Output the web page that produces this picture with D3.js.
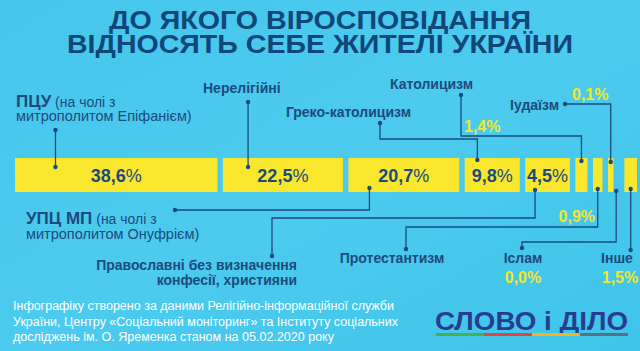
<!DOCTYPE html>
<html><head><meta charset="utf-8">
<script src="https://cdn.jsdelivr.net/npm/d3@7"></script>
<style>html,body{margin:0;padding:0;overflow:hidden;background:#48c8ec}</style>
</head><body>
<script>
// ---- data ----
const categories = ["ПЦУ","Нерелігійні","УПЦ МП","Греко-католицизм","Православні без визначення конфесії, християни","Католицизм","Протестантизм","Іудаїзм","Іслам","Інше"];
const values = [38.6, 22.5, 20.7, 9.8, 4.5, 1.4, 0.9, 0.1, 0.0, 1.5];
const titleLines = ["ДО ЯКОГО ВІРОСПОВІДАННЯ","ВІДНОСЯТЬ СЕБЕ ЖИТЕЛІ УКРАЇНИ"];
const footerLines = ["Інфографіку створено за даними Релігійно-інформаційної служби",
 "України, Центру «Соціальний моніторинг» та Інституту соціальних",
 "досліджень ім. О. Яременка станом на 05.02.2020 року"];

const W = 640, H = 351;
const fmt = v => d3.format(".1f")(v).replace(".", ",");
const svg = d3.select("body").append("svg").attr("width", W).attr("height", H)
  .style("font-family", "'Liberation Sans', Arial, sans-serif");

// background
const defs = svg.append("defs");
const g1 = defs.append("linearGradient").attr("id","bg").attr("x1","0").attr("y1","0").attr("x2","1").attr("y2","1");
g1.append("stop").attr("offset","0").attr("stop-color","#46c6ec");
g1.append("stop").attr("offset","0.5").attr("stop-color","#4ccbee");
g1.append("stop").attr("offset","1").attr("stop-color","#3fc4ea");
svg.append("rect").attr("width",W).attr("height",H).attr("fill","url(#bg)");

const dark = "#1b4b7c", yellow = "#f9e72e", ylab = "#f4e62a";
const narrow = "'Liberation Sans Narrow','Arial Narrow','Liberation Sans',sans-serif";

// title
const titleW = [422, 506];
svg.selectAll("text.title").data(titleLines).join("text")
  .attr("x", W/2).attr("y", (d,i) => 29 + i*24)
  .attr("text-anchor","middle").attr("fill","#0f4778")
  .attr("font-size", 26).attr("font-weight","bold")
  .style("font-family", narrow)
  .attr("textLength",(d,i)=>titleW[i]).attr("lengthAdjust","spacingAndGlyphs")
  .text(d=>d);

// ---- bars ----
const barTop = 158, barH = 34, x0 = 15, xEnd = 637, gap = 5.5;
const labeled = v => v >= 4;
const valSize = 18;
const wScale = d3.scaleLinear().domain([0, d3.max(values)]).range([5, 204]);
// measure text widths for labeled bars
const meas = svg.append("text").attr("font-size",valSize).attr("opacity",0);
const mt1 = meas.append("tspan").attr("font-weight","bold");
const mt2 = meas.append("tspan").text("%");
const widths = values.map(v => {
  if (v <= 0) return 0;
  let w = wScale(v);
  if (labeled(v)) { mt1.text(fmt(v)); w = Math.max(w, meas.node().getComputedTextLength() + 4); }
  return w;
});
meas.remove();
const total = d3.sum(widths) + gap * (values.length - 1);
const k = (xEnd - x0) / total;
let cur = x0;
const bars = values.map((v,i) => {
  const w = widths[i] * k;
  const b = {i, v, x: cur, w};
  cur += w + gap * k;
  return b;
});
svg.selectAll("rect.bar").data(bars.filter(b=>b.w>0)).join("rect")
  .attr("x", d=>d.x).attr("y", barTop).attr("width", d=>d.w).attr("height", barH)
  .attr("fill", yellow);

const inBar = svg.selectAll("text.val").data(bars.filter(b=>labeled(b.v))).join("text")
  .attr("x", d=>d.x + d.w/2).attr("y", barTop + 24).attr("text-anchor","middle")
  .attr("fill", dark).attr("font-size", valSize);
inBar.append("tspan").attr("font-weight","bold").text(d=>fmt(d.v));
inBar.append("tspan").text("%");

// ---- annotations ----
const ann = [
  {i:0, side:"t", frac:0.2, dy:9, dot:[null,130], ey:null},
  {i:1, side:"t", frac:0.21, dy:9, dot:[null,102], ey:null},
  {i:2, side:"b", frac:0.19, dy:4, dot:[175,210], ey:210},
  {i:3, side:"t", frac:0.23, dy:2, dot:[380,123], ey:139},
  {i:4, side:"b", frac:0.22, dy:2, dot:[272,256], ey:218},
  {i:5, side:"t", frac:0.5, dy:3, dot:[461,95], ey:136},
  {i:6, side:"b", frac:0.5, dy:3, dot:[406,249], ey:227},
  {i:7, side:"t", frac:0.5, dy:4, dot:[565,104], ey:104},
  {i:8, side:"b", frac:0.5, dy:1, dot:[522,248], ey:242},
  {i:9, side:"b", frac:0.5, dy:3, dot:[null,250], ey:null}
];
ann.forEach(a => {
  const b = bars[a.i];
  const ax = b.w > 0 ? b.x + b.w * a.frac : b.x - gap * k / 2;
  const by = a.side === "t" ? barTop + a.dy : barTop + barH - a.dy;
  const lx = a.dot[0] === null ? ax : a.dot[0], ly = a.dot[1];
  const p = d3.path();
  p.moveTo(lx, ly);
  if (a.ey !== null) { p.lineTo(lx, a.ey); p.lineTo(ax, a.ey); }
  p.lineTo(ax, by);
  svg.append("path").attr("d", p.toString()).attr("fill","none").attr("stroke", dark).attr("stroke-width",1.3);
  svg.append("circle").attr("cx", lx).attr("cy", ly).attr("r", 2.2).attr("fill", dark);
  svg.append("circle").attr("cx", ax).attr("cy", by).attr("r", 2.2).attr("fill", dark);
});

// label texts
function label(x, y, txt, opts={}) {
  return svg.append("text").attr("x", x).attr("y", y).attr("fill", opts.fill || dark)
    .attr("font-size", opts.size || 14).attr("font-weight", opts.weight || "bold")
    .attr("text-anchor", opts.anchor || "start").text(txt);
}
// ПЦУ
const t0 = svg.append("text").attr("x",16).attr("y",107).attr("fill",dark);
t0.append("tspan").attr("font-size",17).attr("font-weight","bold").text(categories[0]);
t0.append("tspan").attr("font-size",14).text(" (на чолі з");
label(16, 121, "митрополитом Епіфанієм)", {weight:"normal", size:14.5});
// УПЦ МП
const t2 = svg.append("text").attr("x",26).attr("y",224).attr("fill",dark);
t2.append("tspan").attr("font-size",17).attr("font-weight","bold").text(categories[2]);
t2.append("tspan").attr("font-size",14).text(" (на чолі з");
label(26, 239, "митрополитом Онуфрієм)", {weight:"normal", size:14.5});

label(203, 93, categories[1]);
label(411, 117, categories[3], {anchor:"end"});
label(297, 270, "Православні без визначення", {anchor:"end"});
label(297, 285, "конфесії, християни", {anchor:"end"});
label(390, 89, categories[5]);
label(559, 110, categories[7], {anchor:"end"});
label(392, 263, categories[6], {anchor:"middle"});
label(523, 263, categories[8], {anchor:"middle"});
label(617, 263, categories[9], {anchor:"middle"});

// yellow small values
const yopts = {fill: ylab, size: 16};
label(464, 132, fmt(values[5]) + "%", yopts);
label(595, 222, fmt(values[6]) + "%", Object.assign({anchor:"end"}, yopts));
label(572, 100, fmt(values[7]) + "%", yopts);
label(523, 283, fmt(values[8]) + "%", Object.assign({anchor:"middle"}, yopts));
label(620, 283, fmt(values[9]) + "%", Object.assign({anchor:"middle"}, yopts));

// footer
const fW = [381, 385, 321];
svg.selectAll("text.foot").data(footerLines).join("text")
  .attr("x", 13).attr("y", (d,i) => 310 + i*15.5)
  .attr("fill","#ffffff").attr("font-size",12.5)
  .style("font-family", narrow)
  .attr("textLength",(d,i)=>fW[i]).attr("lengthAdjust","spacingAndGlyphs")
  .text(d=>d);

// logo
svg.append("text").attr("x",435).attr("y",330).attr("fill","#283d8f")
  .attr("font-size",25).attr("font-weight","bold")
  .attr("textLength",193).attr("lengthAdjust","spacingAndGlyphs")
  .text("СЛОВО і ДІЛО");
const logoCols = ["#4caf4a","#e8423f","#f5b31c","#5b6f80"];
svg.selectAll("rect.logo").data(logoCols).join("rect")
  .attr("x",(d,i)=>436 + i*48).attr("y",333).attr("width",48).attr("height",3).attr("fill",d=>d);
</script>
</body></html>
